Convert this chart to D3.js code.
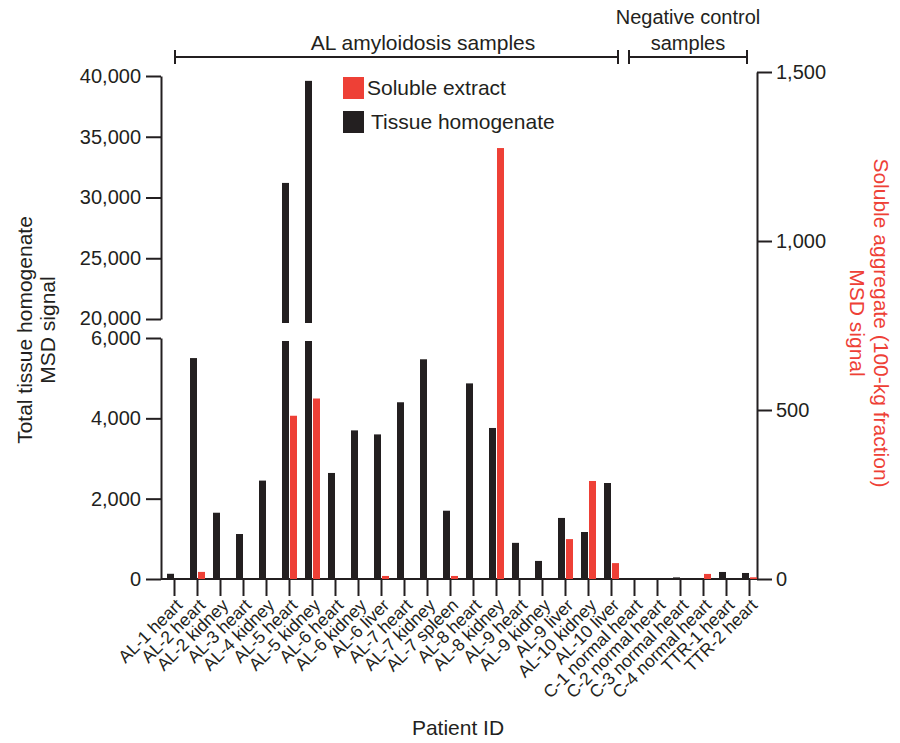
<!DOCTYPE html>
<html>
<head>
<meta charset="utf-8">
<script src="https://cdn.jsdelivr.net/npm/d3@7"></script>
<style>
  html, body { margin: 0; padding: 0; background: #fff; }
  svg text { font-family: "Liberation Sans", Arial, sans-serif; fill: #231f20; }
</style>
</head>
<body>
<div id="chart"></div>
<script>
// ---- data ----
const samples = [
  'AL-1 heart', 'AL-2 heart', 'AL-2 kidney', 'AL-3 heart', 'AL-4 kidney',
  'AL-5 heart', 'AL-5 kidney', 'AL-6 heart', 'AL-6 kidney', 'AL-6 liver',
  'AL-7 heart', 'AL-7 kidney', 'AL-7 spleen', 'AL-8 heart', 'AL-8 kidney',
  'AL-9 heart', 'AL-9 kidney', 'AL-9 liver', 'AL-10 kidney', 'AL-10 liver',
  'C-1 normal heart', 'C-2 normal heart', 'C-3 normal heart', 'C-4 normal heart',
  'TTR-1 heart', 'TTR-2 heart'
];
// total tissue homogenate MSD signal (left axis, broken)
const homogenate = [130, 5500, 1650, 1120, 2450, 31200, 39600, 2640, 3700, 3600,
  4400, 5470, 1700, 4870, 3760, 900, 450, 1520, 1170, 2390, 0, 0, 40, 0, 175, 150];
// soluble aggregate MSD signal (right axis)
const soluble = [0, 21, 0, 0, 0, 483, 534, 0, 0, 9, 0, 0, 9, 0, 1275, 0, 0, 118,
  290, 47, 0, 0, 0, 15, 0, 5];

const lowTicks = [0, 2000, 4000, 6000];
const highTicks = [20000, 25000, 30000, 35000, 40000];
const rightTicks = [0, 500, 1000, 1500];

const groups = [
  { label: ['AL amyloidosis samples'], from: 'AL-1 heart', to: 'AL-10 liver', textX: 423, fs: 21 },
  { label: ['Negative control', 'samples'], from: 'C-1 normal heart', to: 'TTR-2 heart', textX: 688, fs: 20 }
];

const RED = '#ee4036';
const BLACK = '#231f20';

const W = 900, H = 743;
const svg = d3.select('#chart').append('svg')
  .attr('width', W).attr('height', H);

// scales
const x = d3.scalePoint().domain(samples).range([174, 749]);
const sub = d3.scaleBand().domain(['homogenate', 'soluble']).range([-7, 8]).paddingInner(0.125);
const yLow = d3.scaleLinear().domain([0, 6000]).range([579, 338]);
const yHigh = d3.scaleLinear().domain([20000, 40000]).range([319, 76]);
const yRight = d3.scaleLinear().domain([0, 1500]).range([579, 72]);

const fmt = d3.format(',');

function styleAxis(g, fs) {
  g.selectAll('path, line').attr('stroke', BLACK).attr('stroke-width', 2);
  g.selectAll('text').attr('font-size', fs).attr('fill', BLACK)
    .style('font-family', '"Liberation Sans", Arial, sans-serif');
}

// left axis — lower and upper segments
svg.append('g').attr('transform', 'translate(161,0)')
  .call(d3.axisLeft(yLow).tickValues(lowTicks).tickFormat(fmt).tickSize(15).tickSizeOuter(0).tickPadding(5))
  .call(g => styleAxis(g, '20px'));
svg.append('g').attr('transform', 'translate(161,0)')
  .call(d3.axisLeft(yHigh).tickValues(highTicks).tickFormat(fmt).tickSize(15).tickSizeOuter(0).tickPadding(5))
  .call(g => styleAxis(g, '20px'))
  .call(g => g.selectAll('.tick text').filter(d => d === 20000).attr('dy', '0.25em'));

// right axis
svg.append('g').attr('transform', 'translate(757,0)')
  .call(d3.axisRight(yRight).tickValues(rightTicks).tickFormat(fmt).tickSize(15).tickSizeOuter(0).tickPadding(4))
  .call(g => styleAxis(g, '20px'));

// baseline + x ticks
svg.append('line')
  .attr('x1', 161).attr('x2', 757)
  .attr('y1', yLow(0)).attr('y2', yLow(0))
  .attr('stroke', BLACK).attr('stroke-width', 2);

const xAxis = svg.append('g').attr('transform', `translate(0,${yLow(0)})`)
  .call(d3.axisBottom(x).tickSize(17).tickFormat(''));
xAxis.select('.domain').remove();
xAxis.selectAll('line').attr('stroke', BLACK).attr('stroke-width', 2);

// x labels rotated
svg.append('g').selectAll('text')
  .data(samples)
  .join('text')
  .attr('transform', d => `translate(${x(d) + 5},${yLow(0) + 23}) rotate(-45)`)
  .attr('text-anchor', 'end')
  .attr('dy', '0.35em')
  .attr('font-size', '17.5px')
  .text(d => d);

// bars: tissue homogenate (broken above 6,000)
const barG = svg.append('g');
samples.forEach((s, i) => {
  const v = homogenate[i];
  const bx = x(s) + sub('homogenate');
  if (v <= 0) return;
  if (v <= 6000) {
    barG.append('rect')
      .attr('x', bx).attr('width', sub.bandwidth())
      .attr('y', yLow(v)).attr('height', yLow(0) - yLow(v))
      .attr('fill', BLACK);
  } else {
    barG.append('rect')
      .attr('x', bx).attr('width', sub.bandwidth())
      .attr('y', yLow(6000) + 3).attr('height', yLow(0) - yLow(6000) - 3)
      .attr('fill', BLACK);
    barG.append('rect')
      .attr('x', bx).attr('width', sub.bandwidth())
      .attr('y', yHigh(v)).attr('height', yHigh(20000) + 4 - yHigh(v))
      .attr('fill', BLACK);
  }
});

// bars: soluble extract (right axis)
barG.selectAll('rect.sol')
  .data(samples.map((s, i) => ({ s, v: soluble[i] })).filter(d => d.v > 0))
  .join('rect')
  .attr('class', 'sol')
  .attr('x', d => x(d.s) + sub('soluble'))
  .attr('width', sub.bandwidth())
  .attr('y', d => yRight(d.v))
  .attr('height', d => yRight(0) - yRight(d.v))
  .attr('fill', RED);

// group brackets on top
const bracketY = 57;
groups.forEach((grp, gi) => {
  const x1 = x(grp.from) + (gi === 0 ? 1 : -5);
  const x2 = x(grp.to) + (gi === 0 ? 7 : -2);
  const bg = svg.append('g');
  bg.append('line').attr('x1', x1).attr('x2', x2).attr('y1', bracketY).attr('y2', bracketY)
    .attr('stroke', BLACK).attr('stroke-width', 2);
  [x1, x2].forEach(xx => bg.append('line')
    .attr('x1', xx).attr('x2', xx).attr('y1', bracketY - 7).attr('y2', bracketY + 7)
    .attr('stroke', BLACK).attr('stroke-width', 2));
  const t = bg.append('text')
    .attr('text-anchor', 'middle')
    .attr('font-size', grp.fs + 'px');
  grp.label.forEach((line, li) => {
    t.append('tspan')
      .attr('x', grp.textX)
      .attr('y', 50 - (grp.label.length - 1 - li) * 26)
      .text(line);
  });
});

// legend
const legend = [
  { label: 'Soluble extract', color: RED, y: 77, tx: 367 },
  { label: 'Tissue homogenate', color: BLACK, y: 111, tx: 371 }
];
legend.forEach(l => {
  svg.append('rect').attr('x', 343).attr('y', l.y).attr('width', 21).attr('height', 22).attr('fill', l.color);
  svg.append('text').attr('x', l.tx).attr('y', l.y + 18).attr('font-size', '21px').text(l.label);
});

// axis titles
const lt = svg.append('text')
  .attr('transform', 'translate(32,330) rotate(-90)')
  .attr('text-anchor', 'middle')
  .attr('font-size', '21px');
lt.append('tspan').attr('x', 0).attr('y', 0).text('Total tissue homogenate');
lt.append('tspan').attr('x', 0).attr('y', 23).text('MSD signal');

const rt = svg.append('text')
  .attr('transform', 'translate(874,323) rotate(90)')
  .attr('text-anchor', 'middle')
  .attr('font-size', '21px');
rt.append('tspan').attr('x', 0).attr('y', 0).style('fill', RED).text('Soluble aggregate (100-kg fraction)');
rt.append('tspan').attr('x', 0).attr('y', 24).style('fill', RED).text('MSD signal');

svg.append('text')
  .attr('x', 458).attr('y', 735)
  .attr('text-anchor', 'middle')
  .attr('font-size', '21px')
  .text('Patient ID');
</script>
</body>
</html>
